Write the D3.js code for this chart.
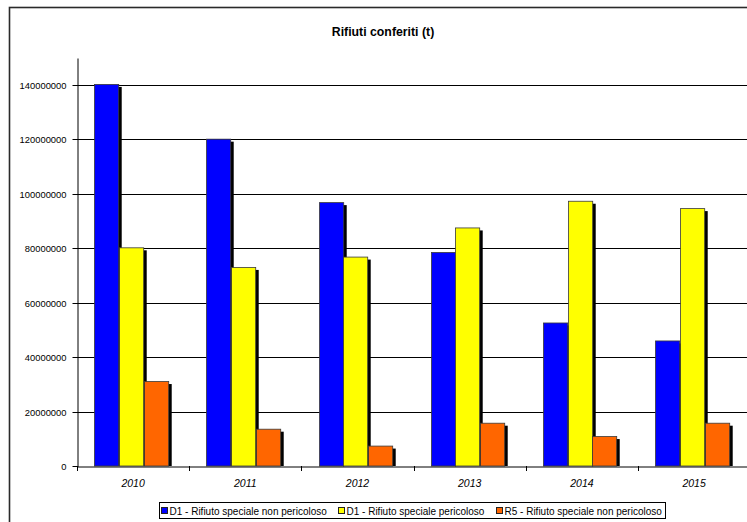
<!DOCTYPE html>
<html><head><meta charset="utf-8">
<script src="https://cdn.jsdelivr.net/npm/d3@7"></script>
<style>body{margin:0;background:#fff}svg{display:block;font-family:"Liberation Sans",Arial,sans-serif}</style>
</head><body><svg id="c" width="747" height="522"></svg>
<script>
const years = ["2010","2011","2012","2013","2014","2015"];
const seriesNames = ["D1 - Rifiuto speciale non pericoloso","D1 - Rifiuto speciale pericoloso","R5 - Rifiuto speciale non pericoloso"];
const d1NonPericoloso = [140300000,120200000,96900000,78600000,52700000,46100000];
const d1Pericoloso = [80300000,73100000,76900000,87600000,97400000,94700000];
const r5NonPericoloso = [31200000,13700000,7500000,15900000,11000000,15900000];
const yTicks = [0,20000000,40000000,60000000,80000000,100000000,120000000,140000000];
const colors = ["#0000ff","#ffff00","#ff6600"];
const seriesValues = [d1NonPericoloso,d1Pericoloso,r5NonPericoloso];

const svg = d3.select("#c");
// outer frame
svg.append("rect").attr("x",9.5).attr("y",7.5).attr("width",800).attr("height",600)
  .attr("fill","#fff").attr("stroke","#2a2a2a").attr("stroke-width",1.6);

const x0 = d3.scaleBand().domain(years).range([77,750.2]).paddingInner(0).paddingOuter(0);
const x1 = d3.scaleBand().domain(d3.range(3)).range([0,x0.bandwidth()]).paddingInner(0).paddingOuter(0.77).align(0.45);
const y = d3.scaleLinear().domain([0,150000000]).range([466,57.5]);

// title
svg.append("text").attr("x",383).attr("y",35.5).attr("text-anchor","middle")
  .attr("font-weight","bold").attr("font-size",12.3).text("Rifiuti conferiti (t)");

// gridlines
svg.append("g").selectAll("line").data(yTicks.slice(1)).join("line")
  .attr("x1",77).attr("x2",747).attr("y1",d=>Math.round(y(d))+0.5).attr("y2",d=>Math.round(y(d))+0.5)
  .attr("stroke","#000").attr("stroke-width",1);

// y axis
const yAxis = d3.axisLeft(y).tickValues(yTicks).tickSize(5).tickSizeOuter(0).tickPadding(6).tickFormat(d3.format("d"));
const gy = svg.append("g").attr("transform","translate(77.5,0.5)").call(yAxis);
gy.select(".domain").attr("stroke","#000");
gy.selectAll(".tick line").attr("stroke","#000");
gy.selectAll(".tick text").attr("font-size",9.4).attr("fill","#000").attr("font-family","Liberation Sans, Arial, sans-serif");
gy.selectAll(".tick").attr("transform",d=>`translate(0,${Math.round(y(d))})`);

// bars
const data = [];
years.forEach((yr,i)=>seriesValues.forEach((vals,s)=>data.push({yr,s,v:vals[i]})));
const g = svg.append("g");
data.forEach(d=>{
  const bx = Math.round(x0(d.yr)+x1(d.s));
  const bw = x1.bandwidth();
  const by = y(d.v);
  g.append("rect").attr("x",bx+3).attr("y",by+3).attr("width",bw).attr("height",466-by-3).attr("fill","#000");
});
data.forEach(d=>{
  const bx = Math.round(x0(d.yr)+x1(d.s));
  const bw = x1.bandwidth();
  const by = y(d.v);
  g.append("rect").attr("x",bx+0.5).attr("y",by+0.5).attr("width",bw-0.5).attr("height",466-by-0.5)
    .attr("fill",colors[d.s]).attr("stroke","#3a3a3a").attr("stroke-width",0.8);
});

// x axis
const xAxis = d3.axisBottom(x0).tickSize(0).tickSizeOuter(0).tickPadding(13);
const gx = svg.append("g").attr("transform","translate(0,466.5)").call(xAxis);
gx.select(".domain").attr("stroke","#000");
gx.selectAll(".tick text").attr("font-size",10.5).attr("font-style","italic").attr("fill","#000").attr("font-family","Liberation Sans, Arial, sans-serif");
svg.append("g").selectAll("line").data(years).join("line")
  .attr("x1",d=>Math.round(x0(d))+0.5).attr("x2",d=>Math.round(x0(d))+0.5).attr("y1",466).attr("y2",471)
  .attr("stroke","#000");

// legend
const lg = svg.append("g");
lg.append("rect").attr("x",159.5).attr("y",502.5).attr("width",506).attr("height",16)
  .attr("fill","#fff").attr("stroke","#000").attr("stroke-width",1);
const legX = [161,338,496];
seriesNames.forEach((n,i)=>{
  lg.append("rect").attr("x",legX[i]+0.5).attr("y",507.5).attr("width",6).attr("height",6)
    .attr("fill",colors[i]).attr("stroke","#222").attr("stroke-width",1);
  lg.append("text").attr("x",legX[i]+8.5).attr("y",514.5).attr("font-size",10).attr("fill","#000").text(n);
});
</script></body></html>
